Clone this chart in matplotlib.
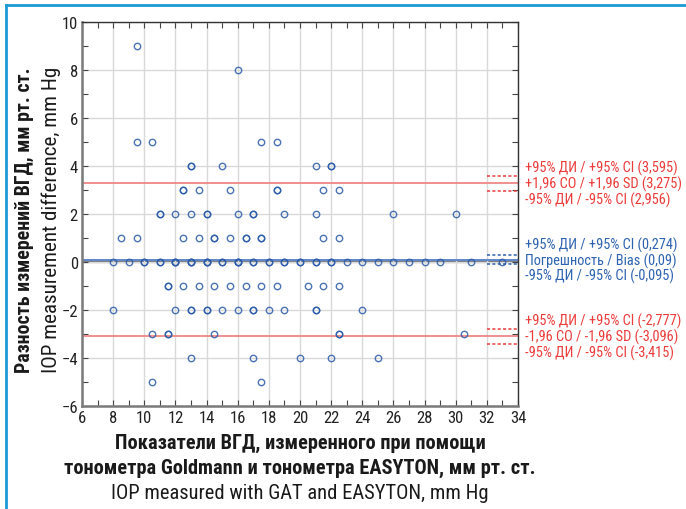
import matplotlib
matplotlib.use("Agg")
import matplotlib.pyplot as plt
from matplotlib import font_manager
from matplotlib.ticker import MultipleLocator
from matplotlib.lines import Line2D

# pick a narrow sans family that has both regular and bold faces
weights = {}
for f in font_manager.fontManager.ttflist:
    w = f.weight if isinstance(f.weight, int) else 400
    weights.setdefault(f.name, set()).add(w)
narrow = 'DejaVu Sans'
for cand in ['Liberation Sans Narrow', 'Roboto Condensed', 'Fira Sans Condensed',
             'PT Sans Narrow', 'IBM Plex Sans Condensed', 'Encode Sans Condensed',
             'Archivo Narrow', 'Open Sans Condensed']:
    ws = weights.get(cand, set())
    if 400 in ws and 700 in ws:
        narrow = cand
        break
plt.rcParams['font.family'] = [narrow, 'DejaVu Sans']

# mean IOP (GAT + EASYTON)/2 and difference, grouped by difference value
iop_mean = [
    9.5,                                                    # 9
    16,                                                     # 8
    9.5, 10.5, 17.5, 18.5,                                  # 5
    13, 13, 15, 21, 22, 22,                                 # 4
    12.5, 12.5, 13.5, 15.5, 18.5, 18.5, 21.5, 22.5,         # 3
    11, 11, 12, 13, 14, 14, 16, 17, 17, 19, 21, 26, 30,     # 2
    8.5, 9.5, 12.5, 13.5, 14.5, 14.5, 15.5, 16.5, 16.5,
    17.5, 17.5, 21.5, 22.5,                                 # 1
    8, 9, 10, 10, 11, 11, 12, 12, 12, 13, 13, 13, 14, 14, 14,
    15, 15, 16, 16, 16, 17, 17, 18, 18, 19, 19, 20, 20, 21, 21,
    22, 22, 23, 24, 25, 26, 27, 28, 29, 31, 33,             # 0
    11.5, 11.5, 12.5, 13.5, 14.5, 15.5, 16.5, 17.5, 18.5,
    20.5, 21.5, 22.5,                                       # -1
    8, 12, 13, 13, 14, 14, 15, 16, 17, 17, 18, 19, 21, 21, 24,  # -2
    10.5, 11.5, 11.5, 14.5, 22.5, 22.5, 30.5,               # -3
    13, 17, 20, 22, 25,                                     # -4
    10.5, 17.5,                                             # -5
]
iop_diff = ([9] * 1 + [8] * 1 + [5] * 4 + [4] * 6 + [3] * 8 + [2] * 13
            + [1] * 13 + [0] * 41 + [-1] * 12 + [-2] * 15 + [-3] * 7
            + [-4] * 5 + [-5] * 2)

bias = 0.09
bias_ci = (0.274, -0.095)
upper_loa = 3.275
upper_ci = (3.595, 2.956)
lower_loa = -3.096
lower_ci = (-2.777, -3.415)

red = '#ec3b3b'
red_line = '#f08787'
blue = '#2d63b0'
blue_line = '#5f86cc'


def num(v):
    return str(v).replace('.', ',')


fig = plt.figure(figsize=(6.86, 5.10), dpi=100)
renderer = fig.canvas.get_renderer()


def fit(t, width_px, horizontal=True):
    # scale the font so the text spans the given number of pixels
    bb = t.get_window_extent(renderer)
    cur = bb.width if horizontal else bb.height
    t.set_fontsize(t.get_fontsize() * width_px / cur)
    return t


ax = fig.add_axes([82 / 686, 1 - 407 / 510, 436 / 686, 384 / 510])

ax.set_xlim(6, 34)
ax.set_ylim(-6, 10)
ax.xaxis.set_major_locator(MultipleLocator(2))
ax.xaxis.set_minor_locator(MultipleLocator(1))
ax.yaxis.set_major_locator(MultipleLocator(2))
ax.yaxis.set_minor_locator(MultipleLocator(1))
ax.grid(which='major', color='#d9d9d9', lw=1.0, zorder=0)
ax.tick_params(which='both', direction='in', top=True, right=True,
               length=4, width=0.8, color='#444444', labelsize=12,
               labelcolor='#222222', pad=3)
for side in ('left', 'bottom'):
    ax.spines[side].set_color('#7a7a7a')
    ax.spines[side].set_linewidth(1.8)
for side in ('top', 'right'):
    ax.spines[side].set_color('#333333')
    ax.spines[side].set_linewidth(1.0)

# zero line, bias and limits of agreement
ax.axhline(0, color='#6e6e6e', lw=1.6, zorder=1)
ax.axhline(bias, color=blue_line, lw=1.4, zorder=2)
ax.axhline(upper_loa, color=red_line, lw=1.3, zorder=2)
ax.axhline(lower_loa, color=red_line, lw=1.3, zorder=2)

# confidence interval stubs at the right edge
for v in upper_ci + lower_ci:
    ax.plot([32, 34], [v, v], color=red, lw=1.1, ls=(0, (2, 1.5)), zorder=3)
for v in bias_ci:
    ax.plot([32, 34], [v, v], color=blue, lw=1.1, ls=(0, (2, 1.5)), zorder=3)

ax.plot(iop_mean, iop_diff, ls='none', marker='o', ms=4.6, mfc='none',
        mec='#2a5caa', mew=1.0, alpha=0.85, zorder=4)

# one font size for all side labels, sized from the widest line
probe = fig.text(0, 0, '+95% ДИ / +95% CI (-2,777)', fontsize=10)
side_size = fit(probe, 156).get_fontsize()
probe.remove()


# labels to the right of the plot
def side_label(y, lines, color):
    for off, txt in zip((11.5, 0, -11.5), lines):
        ax.annotate(txt, xy=(1.0, y), xycoords=('axes fraction', 'data'),
                    xytext=(5, off), textcoords='offset points',
                    ha='left', va='center', fontsize=side_size, color=color,
                    annotation_clip=False)


side_label(upper_loa, ['+95% ДИ / +95% CI (' + num(upper_ci[0]) + ')',
                       '+1,96 СО / +1,96 SD (' + num(upper_loa) + ')',
                       '-95% ДИ / -95% CI (' + num(upper_ci[1]) + ')'], red)
side_label(bias, ['+95% ДИ / +95% CI (' + num(bias_ci[0]) + ')',
                  'Погрешность / Bias (' + num(bias) + ')',
                  '-95% ДИ / -95% CI (' + num(bias_ci[1]) + ')'], blue)
side_label(lower_loa, ['+95% ДИ / +95% CI (' + num(lower_ci[0]) + ')',
                       '-1,96 СО / -1,96 SD (' + num(lower_loa) + ')',
                       '-95% ДИ / -95% CI (' + num(lower_ci[1]) + ')'], red)

# axis titles
cx = 300 / 686
t1 = fig.text(cx, 1 - 443 / 510, 'Показатели ВГД, измеренного при помощи',
              ha='center', va='center', fontsize=12, fontweight='bold', color='#1a1a1a')
t2 = fig.text(cx, 1 - 468 / 510, 'тонометра Goldmann и тонометра EASYTON, мм рт. ст.',
              ha='center', va='center', fontsize=12, fontweight='bold', color='#1a1a1a')
t3 = fig.text(cx, 1 - 494 / 510, 'IOP measured with GAT and EASYTON, mm Hg',
              ha='center', va='center', fontsize=12, color='#1a1a1a')
fit(t2, 470)
t1.set_fontsize(t2.get_fontsize())
fit(t3, 376)

cy = 1 - 220 / 510
y1 = fig.text(24 / 686, cy, 'Разность измерений ВГД, мм рт. ст.', rotation=90,
              ha='center', va='center', fontsize=12, fontweight='bold', color='#1a1a1a')
y2 = fig.text(51 / 686, cy, 'IOP measurement difference, mm Hg', rotation=90,
              ha='center', va='center', fontsize=12, color='#1a1a1a')
fit(y1, 306, horizontal=False)
fit(y2, 305, horizontal=False)

# blue frame along top and left edges
frame = '#1b9ad6'
fig.add_artist(Line2D([6 / 686, 6 / 686], [0, 1 - 6 / 510], color=frame, lw=2.0,
                      transform=fig.transFigure))
fig.add_artist(Line2D([6 / 686, 1], [1 - 6 / 510, 1 - 6 / 510], color=frame, lw=2.0,
                      transform=fig.transFigure))

fig.savefig('out.png', dpi=100)
